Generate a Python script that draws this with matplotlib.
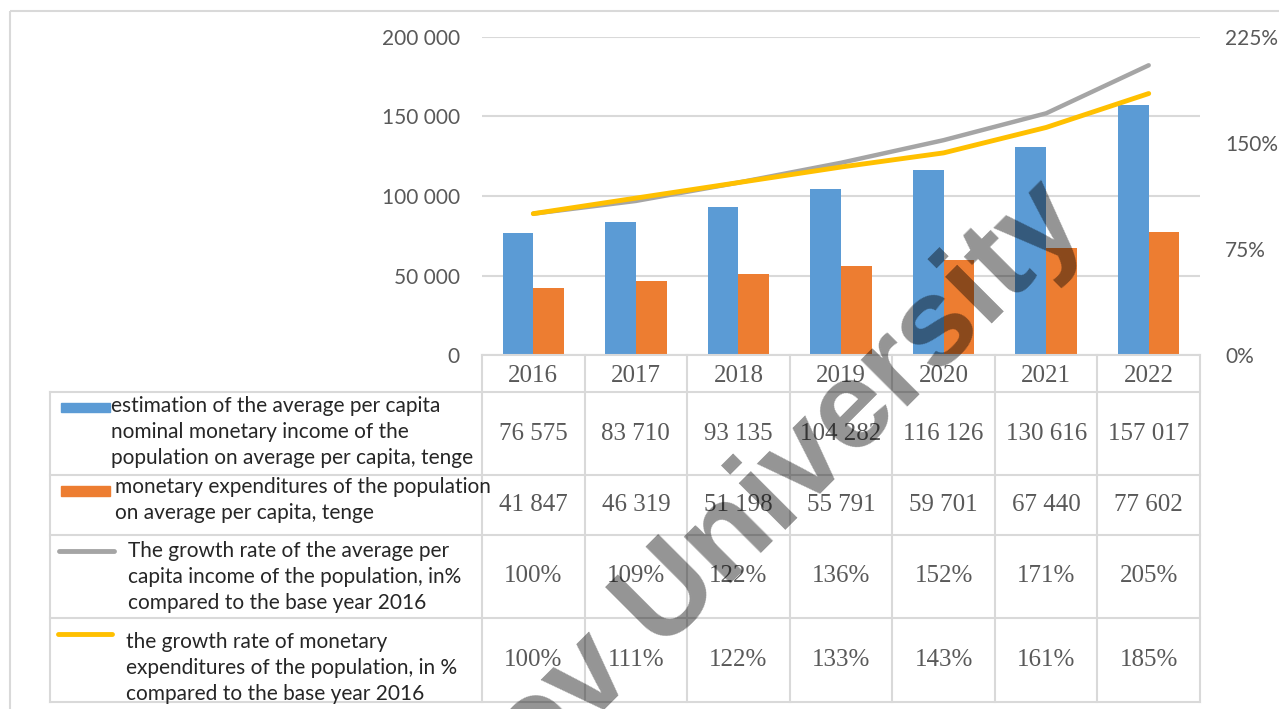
import numpy as np
import matplotlib.pyplot as plt
from matplotlib.patches import Rectangle

years = ["2016", "2017", "2018", "2019", "2020", "2021", "2022"]
income = [76575, 83710, 93135, 104282, 116126, 130616, 157017]
expenditure = [41847, 46319, 51198, 55791, 59701, 67440, 77602]
income_growth = [100, 109, 122, 136, 152, 171, 205]
expenditure_growth = [100, 111, 122, 133, 143, 161, 185]

series_labels = [
    "estimation of the average per capita\nnominal monetary income of the\npopulation on average per capita, tenge",
    "monetary expenditures of the population\non average per capita, tenge",
    "The growth rate of the average per\ncapita income of the population, in%\ncompared to the base year 2016",
    "the growth rate of monetary\nexpenditures of the population, in %\ncompared to the base year 2016",
]
left_ticks = [0, 50000, 100000, 150000, 200000]
right_ticks = [0, 75, 150, 225]

BLUE = "#5b9bd5"
ORANGE = "#ed7d31"
GRAY = "#a5a5a5"
GOLD = "#ffc000"
GRID = "#d9d9d9"
TXT = "#595959"
SANS = "Lato"
SERIF = "Liberation Serif"

W, H = 1279, 709
fig = plt.figure(figsize=(W / 100, H / 100), dpi=100)

# plot area in pixels
L, R, T, B = 482, 1200, 37, 355

ax = fig.add_axes([L / W, 1 - B / H, (R - L) / W, (B - T) / H])
x = np.arange(len(years))
ax.bar(x - 0.15, income, 0.3, color=BLUE, zorder=2)
ax.bar(x + 0.15, expenditure, 0.3, color=ORANGE, zorder=2)
ax.set_xlim(-0.5, len(years) - 0.5)
ax.set_ylim(0, 200000)
ax.set_yticks(left_ticks)
ax.set_yticklabels([f"{v:,}".replace(",", " ") for v in left_ticks],
                   fontfamily=SANS, fontsize=15, color=TXT)
ax.set_xticks([])
ax.tick_params(axis="y", length=0, pad=16)
ax.yaxis.grid(True, color=GRID, lw=1.5)
ax.set_axisbelow(True)
for s in ax.spines.values():
    s.set_visible(False)

ax2 = ax.twinx()
ax2.plot(x, income_growth, color=GRAY, lw=3.2, solid_capstyle="round", zorder=3)
ax2.plot(x, expenditure_growth, color=GOLD, lw=3.5, solid_capstyle="round", zorder=4)
ax2.set_ylim(0, 225)
ax2.set_yticks(right_ticks)
ax2.set_yticklabels([f"{v}%" for v in right_ticks], fontfamily=SANS, fontsize=15, color=TXT)
ax2.tick_params(axis="y", length=0, pad=18)
for s in ax2.spines.values():
    s.set_visible(False)

# data table below the chart
tab = fig.add_axes([0, 0, 1, 1], facecolor="none")
tab.set_xlim(0, W)
tab.set_ylim(H, 0)
tab.axis("off")

tab.add_patch(Rectangle((10, 11), W, H, fill=False, ec=GRID, lw=1.5))

rows = [392, 475, 535, 618, 702]
col_w = (R - L) / len(years)
tab.plot([L, R], [B, B], color=GRID, lw=1.5)
for yy in rows:
    tab.plot([50, R], [yy, yy], color=GRID, lw=1.5)
for i in range(len(years) + 1):
    tab.plot([L + i * col_w] * 2, [B, rows[-1]], color=GRID, lw=1.5)
tab.plot([50, 50], [rows[0], rows[-1]], color=GRID, lw=1.5)

for i, yr in enumerate(years):
    tab.text(L + (i + 0.5) * col_w, (B + rows[0]) / 2 + 2, yr, ha="center", va="center",
             fontfamily=SERIF, fontsize=18, color=TXT)

table_rows = [
    [f"{v:,}".replace(",", " ") for v in income],
    [f"{v:,}".replace(",", " ") for v in expenditure],
    [f"{v}%" for v in income_growth],
    [f"{v}%" for v in expenditure_growth],
]
for r, vals in enumerate(table_rows):
    yc = (rows[r] + rows[r + 1]) / 2
    for i, v in enumerate(vals):
        tab.text(L + (i + 0.5) * col_w, yc, v, ha="center", va="center",
                 fontfamily=SERIF, fontsize=18, color=TXT)

# legend keys and series names
tab.add_patch(Rectangle((61, 403), 49, 9, color=BLUE))
tab.add_patch(Rectangle((61, 486), 49, 10, color=ORANGE))
tab.plot([59, 114], [551, 551], color=GRAY, lw=3.5, solid_capstyle="round")
tab.plot([58, 112], [634, 634], color=GOLD, lw=3.5, solid_capstyle="round")

label_pos = [(111, 396), (115, 477), (128, 541), (126, 632)]
for (lx, ly), lab in zip(label_pos, series_labels):
    tab.text(lx, ly, lab, ha="left", va="top", fontfamily=SANS, fontsize=15,
             color="#262626", linespacing=1.38)

# watermark
fig.text(811 / W, 1 - 503 / H, "ov University", rotation=45, rotation_mode="anchor",
         ha="center", va="baseline", fontfamily="Liberation Sans", fontweight="bold",
         fontsize=90, color="black", alpha=0.42, zorder=10)

fig.savefig("out.png", dpi=100)
